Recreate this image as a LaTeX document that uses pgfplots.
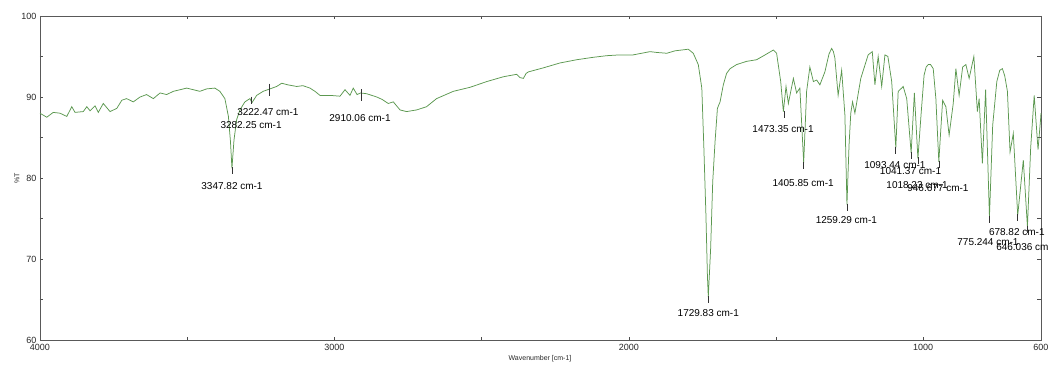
\documentclass[border=0pt]{standalone}
\usepackage{fontspec}
\setmainfont{Liberation Sans}
\usepackage{pgfplots}
\pgfplotsset{compat=1.18}
\definecolor{spec}{RGB}{92,152,80}
\definecolor{lbl}{RGB}{55,55,55}
\begin{document}
\begin{tikzpicture}[x=1pt,y=1pt]
\begin{axis}[
 at={(0,0)}, anchor=south west,
 scale only axis, width=1001pt, height=324pt,
 x dir=reverse, xmin=600, xmax=4000, ymin=60, ymax=100,
 xtick={4000,3500,3000,2500,2000,1500,1000,600},
 xticklabels={4000,,3000,,2000,,1000,600},
 ytick={60,65,...,100}, yticklabels={60,,70,,80,,90,,100},
 tick align=inside, major tick length=3.5pt,
 tick style={color=black!70, line width=0.6pt},
 axis line style={color=black!65, line width=0.8pt},
 tick label style={font=\fontsize{9}{10}\selectfont, text=black!85},
 xticklabel style={yshift=-1pt},
 /pgf/number format/assume math mode=true,
 clip=false,
 every node/.append style={font=\fontsize{9}{10}\selectfont, text=lbl},
]
\addplot[spec, line width=0.75pt] coordinates {
(4000,88.0) (3977,87.5) (3955,88.1) (3932,88.0) (3909,87.6) (3892,88.8) (3881,88.1)
(3853,88.2) (3841,88.8) (3830,88.3) (3813,88.9) (3802,88.1) (3785,89.2) (3762,88.2)
(3739,88.6) (3722,89.6) (3706,89.8) (3683,89.4) (3660,90.0) (3638,90.3) (3615,89.8)
(3592,90.5) (3570,90.3) (3547,90.7) (3524,90.9) (3502,91.1) (3479,90.9) (3457,90.7)
(3434,91.0) (3406,91.1) (3389,90.7) (3372,89.8) (3360,87.6) (3353,84.5) (3348,81.2)
(3341,84.7) (3332,87.2) (3321,88.4) (3304,89.4) (3287,89.8) (3280,89.3) (3264,90.2)
(3242,90.7) (3219,91.0) (3196,91.3) (3179,91.7) (3158,91.5) (3128,91.3) (3107,91.4)
(3083,91.1) (3066,90.7) (3049,90.2) (3015,90.2) (2981,90.1) (2964,90.9) (2947,90.2)
(2936,91.1) (2923,90.3) (2911,90.5) (2890,90.4) (2856,90.0) (2838,89.7) (2817,89.2)
(2800,89.4) (2777,88.4) (2755,88.2) (2721,88.4) (2687,88.8) (2653,89.8) (2596,90.7)
(2539,91.2) (2483,91.9) (2426,92.5) (2381,92.8) (2370,92.4) (2358,92.3) (2349,92.9)
(2341,93.1) (2290,93.6) (2234,94.2) (2177,94.6) (2121,94.9) (2075,95.1) (2030,95.2)
(1985,95.2) (1928,95.6) (1905,95.5) (1871,95.4) (1843,95.7) (1798,95.9) (1781,95.4)
(1764,94.0) (1752,91.1) (1745,83.7) (1738,75.4) (1733,68.0) (1730,65.3) (1722,71.3)
(1715,79.5) (1707,84.5) (1699,88.6) (1690,89.4) (1679,91.5) (1668,92.9) (1656,93.5)
(1634,94.0) (1600,94.4) (1566,94.6) (1537,95.2) (1509,95.8) (1498,95.4) (1484,91.9)
(1475,88.2) (1466,91.3) (1458,89.2) (1441,92.3) (1430,90.5) (1419,91.1) (1406,81.9)
(1396,90.7) (1385,93.7) (1373,91.9) (1362,92.1) (1351,91.5) (1334,93.1) (1320,95.3)
(1311,96.0) (1305,95.6)
(1300,94.8) (1289,90.2) (1277,93.3) (1266,87.8) (1259,76.7) (1252,84.0) (1246,88.0)
(1240,89.4) (1232,88.0) (1212,92.3) (1187,95.2) (1173,95.6) (1164,91.5) (1153,95.0)
(1141,91.3) (1130,95.2) (1120,95.0) (1107,91.9) (1093,83.7) (1085,90.7) (1073,91.1)
(1068,91.3) (1056,89.8) (1041,83.1) (1030,90.5) (1018,82.4) (1007,88.0) (997,92.7)
(990,93.7) (983,94.0) (975,94.0) (966,93.5) (957,89.8) (947,82.0) (934,89.6) (923,88.8) (912,85.3)
(898,89.2) (889,93.5) (878,90.2) (866,93.7) (855,94.0) (844,92.3) (828,95.0)
(816,88.2) (810,89.8) (799,81.8) (788,90.9) (775,75.2) (764,86.5) (750,91.9)
(740,93.3) (731,93.5) (723,92.6) (714,90.7) (705,83.2) (694,85.5) (679,75.4) (660,82.2) (646,74.0)
(635,83.7) (623,90.2) (610,83.5) (601,87.4) (600,88.0)
};
% peak markers
\addplot[only marks, mark=|, mark size=3.5pt, black!80, mark options={line width=0.6pt}] coordinates {
(3347.82,80.9) (3282.25,89.6) (1729.83,65.0) (1473.35,87.9) (1405.85,81.6) (1259.29,76.4)
(1093.44,83.4) (1041.37,82.8) (1018.23,82.1) (946.677,81.7) (775.244,74.9) (678.82,75.1) (646.036,73.7)
};
\addplot[only marks, mark=|, mark size=6pt, black!80, mark options={line width=0.6pt}] coordinates {
(3222.47,90.9) (2910.06,90.2)
};
\node at (axis cs:3347.8,79.0) {3347.82 cm-1};
\node at (axis cs:3283,86.5) {3282.25 cm-1};
\node at (axis cs:3226,88.1) {3222.47 cm-1};
\node at (axis cs:2913,87.4) {2910.06 cm-1};
\node at (axis cs:1730,63.3) {1729.83 cm-1};
\node at (axis cs:1476,86.0) {1473.35 cm-1};
\node at (axis cs:1408,79.4) {1405.85 cm-1};
\node at (axis cs:1261,74.8) {1259.29 cm-1};
\node at (axis cs:1096,81.6) {1093.44 cm-1};
\node at (axis cs:1043,80.8) {1041.37 cm-1};
\node at (axis cs:1021,79.1) {1018.23 cm-1};
\node at (axis cs:950,78.8) {946.677 cm-1};
\node at (axis cs:682,73.3) {678.82 cm-1};
\node at (axis cs:780,72.1) {775.244 cm-1};
\node at (axis cs:648,71.5) {646.036 cm-1};
\end{axis}
\node[font=\fontsize{7}{8}\selectfont, text=black!85] at (500pt,-19pt) {Wavenumber [cm-1]};
\node[font=\fontsize{7}{8}\selectfont, text=black!85, rotate=90] at (-23pt,162pt) {\%T};
\pgfresetboundingbox
\useasboundingbox (-40pt,-24pt) rectangle (1008pt,340pt);
\end{tikzpicture}
\end{document}
